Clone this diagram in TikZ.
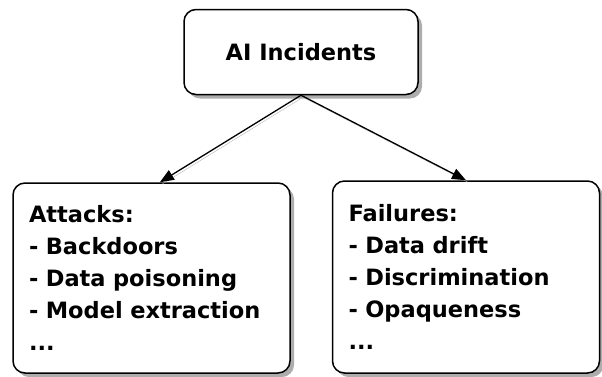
\documentclass[tikz,border=0pt]{standalone}
\usepackage{fontspec}
\setmainfont{DejaVu Sans}
\usepackage{tikz}
\usetikzlibrary{arrows.meta, positioning, shadows}

\begin{document}
\begin{tikzpicture}[
        x=1pt, y=-1pt,
        sketchbox/.style={
            draw,
            line width=1.5pt,
            rounded corners=12pt,
            fill=white,
            drop shadow={shadow xshift=4pt, shadow yshift=-4pt, fill=black!40, opacity=0.8},
            font=\fontsize{22.5}{32}\selectfont\bfseries
        },
        incident/.style={
            sketchbox,
            minimum width=234pt,
            minimum height=85pt
        },
        category/.style={
            sketchbox,
            align=left,
            inner xsep=16pt,
            anchor=north,
            execute at begin node={\hyphenpenalty=10000}
        },
        linkarrow/.style={
            -{Triangle[length=14pt, width=11pt]},
            line width=1.3pt,
            preaction={draw=black!30, -, transform canvas={shift={(2pt,-2pt)}}}
        }
    ]
        \useasboundingbox (0,0) rectangle (602,376);

        \node[incident] (incidents) at (301,52) {AI Incidents};

        \node[category, minimum width=277pt, minimum height=190pt, text width=245pt,
              below=87pt of incidents.south, xshift=-149.5pt] (attacks) {
            Attacks:\\
            - Backdoors\\
            - Data poisoning\\
            - Model extraction\\
            ...
        };

        \node[category, minimum width=267pt, minimum height=192pt, text width=235pt,
              below=85pt of incidents.south, xshift=165pt] (failures) {
            Failures:\\
            - Data drift\\
            - Discrimination\\
            - Opaqueness\\
            ...
        };

        \draw[linkarrow] (incidents.south) -- (attacks.85);
        \draw[linkarrow] (incidents.south) -- (failures.north);
    \end{tikzpicture}
\end{document}
